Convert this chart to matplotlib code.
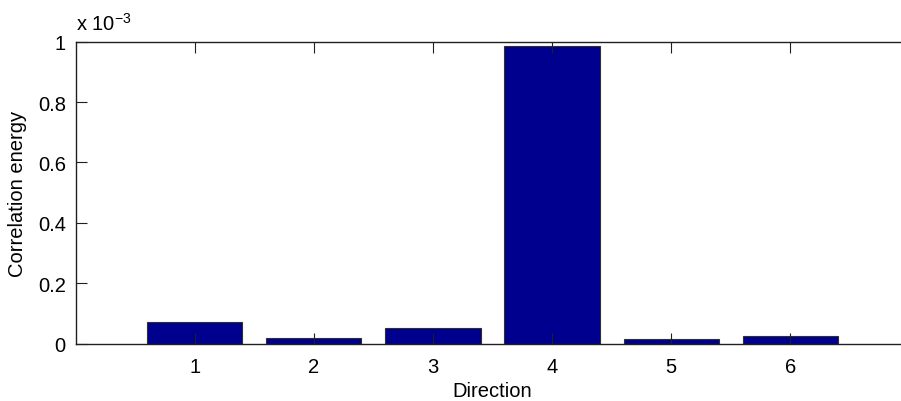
import numpy as np
import matplotlib.pyplot as plt

plt.rcParams['font.family'] = ['Liberation Sans', 'DejaVu Sans']
plt.rcParams['mathtext.fontset'] = 'custom'
plt.rcParams['mathtext.rm'] = 'Liberation Sans'
plt.rcParams['mathtext.it'] = 'Liberation Sans'

# correlation energy per direction (x 10^-3)
directions = [1, 2, 3, 4, 5, 6]
energy = [0.071, 0.017, 0.052, 0.986, 0.015, 0.026]
scale = 1e-3

yticks = [0, 0.2, 0.4, 0.6, 0.8, 1.0]
ytick_labels = ['0', '0.2', '0.4', '0.6', '0.8', '1']

fs = 14.5

fig = plt.figure(figsize=(9.01, 4.02), dpi=100)
# axes run past the right edge of the figure
ax = fig.add_axes([75.5 / 901, 57.5 / 402, 834 / 901, 301.8 / 402])

ax.bar(directions, np.array(energy) * scale, width=0.8,
       color='#00008f', edgecolor='#303030', linewidth=0.8, zorder=1)

ax.set_xlim(0, 7)
ax.set_ylim(0, 1e-3)
ax.set_xticks(directions)
ax.set_xticklabels([str(d) for d in directions])
ax.set_yticks(np.array(yticks) * scale)
ax.set_yticklabels(ytick_labels)

ax.tick_params(direction='in', length=8, width=0.8, labelsize=fs,
               top=True, right=False, color='#202020')
ax.tick_params(axis='x', pad=10)
ax.tick_params(axis='y', pad=7)
for side in ['left', 'bottom', 'top']:
    ax.spines[side].set_linewidth(1.0)
    ax.spines[side].set_color('#202020')
    ax.spines[side].set_zorder(3)
ax.spines['right'].set_visible(False)

ax.set_xlabel('Direction', fontsize=fs, labelpad=3)
ax.set_ylabel('Correlation energy', fontsize=fs, labelpad=8)

fig.text(76 / 901, 1 - 24 / 402, r'x 10$^{-3}$', fontsize=fs,
         ha='left', va='center')

fig.savefig('out.png', dpi=100)
